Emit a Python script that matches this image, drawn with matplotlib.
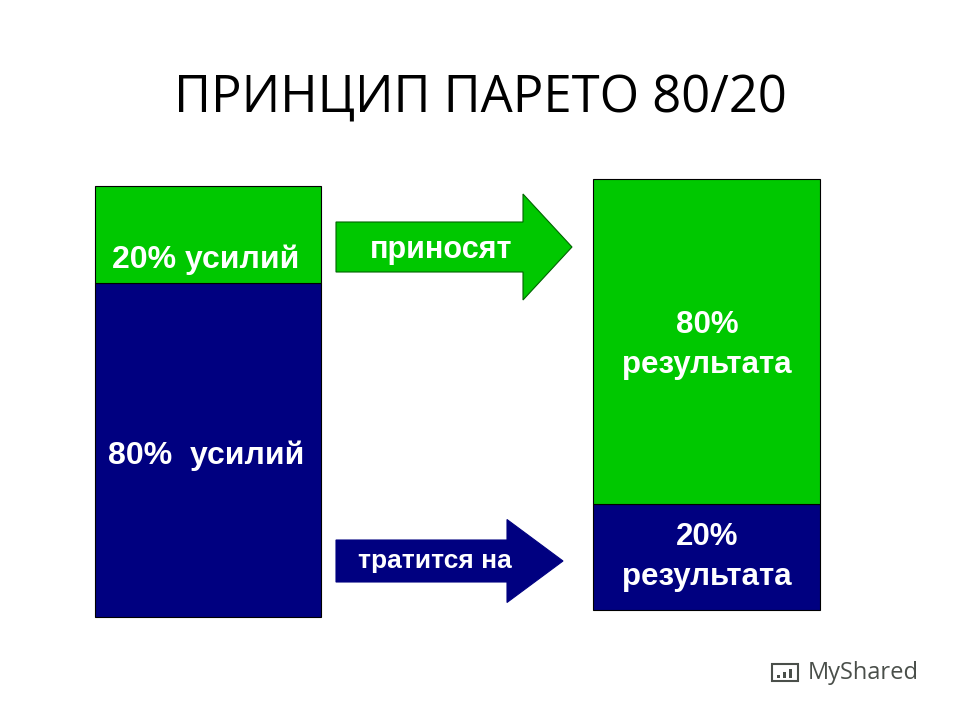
import matplotlib.pyplot as plt
from matplotlib.patches import FancyArrow, Rectangle

plt.rcParams['font.family'] = ['Liberation Sans', 'DejaVu Sans']

# data: share of each part, bottom (navy) first, then top (green)
effort_share = [77.5, 22.5]
result_share = [24.5, 75.5]
effort_labels = ['80%  усилий', '20% усилий']
result_labels = ['20%\nрезультата', '80%\nрезультата']
arrow_labels = ['приносят', 'тратится на']
title = 'ПРИНЦИП ПАРЕТО 80/20'

NAVY = '#000080'
GREEN = '#00C800'
colors = [NAVY, GREEN]

fig = plt.figure(figsize=(9.6, 7.2), dpi=100)
ax = fig.add_axes([0, 0, 1, 1])
ax.set_xlim(0, 960)
ax.set_ylim(720, 0)
ax.axis('off')

px_per_pct = 4.31  # bar height in pixels for 100%


def stacked(x0, width, y_bottom, shares, labels, label_y, fs, ha_x):
    bottom = y_bottom
    for share, col in zip(shares, colors):
        h = share * px_per_pct
        ax.add_patch(Rectangle((x0, bottom - h), width, h, facecolor=col,
                               edgecolor='black', linewidth=0.8))
        bottom -= h
    for lab, ly in zip(labels, label_y):
        ax.text(ha_x, ly, lab, color='white', fontsize=fs, fontweight='bold',
                ha='center', va='center', linespacing=1.45)


stacked(95, 226, 617, effort_share, effort_labels, [456, 260], 23, 206)
stacked(593, 227, 610, result_share, result_labels, [557, 345], 22.5, 707)

# arrows
ax.add_patch(FancyArrow(336, 247, 236, 0, width=50, head_width=106,
                        head_length=49, length_includes_head=True,
                        facecolor=GREEN, edgecolor='#006400', linewidth=0.8))
ax.add_patch(FancyArrow(336, 561, 227, 0, width=42, head_width=83,
                        head_length=56, length_includes_head=True,
                        facecolor=NAVY, edgecolor=NAVY, linewidth=0.8))
ax.text(441, 250, arrow_labels[0], color='white', fontsize=22,
        fontweight='bold', ha='center', va='center')
ax.text(435, 561, arrow_labels[1], color='white', fontsize=19,
        fontweight='bold', ha='center', va='center')

ax.text(480, 99, title, fontsize=36.5, ha='center', va='center',
        family=['Open Sans', 'DejaVu Sans'], color='black')

# watermark
ax.text(808, 673, 'MyShared', fontsize=17, color='#4a4f4a', ha='left',
        va='center', family=['Open Sans', 'DejaVu Sans'])
ax.add_patch(Rectangle((772, 664), 26, 17, facecolor='none',
                       edgecolor='#4a4f4a', linewidth=1.5))
for i, hgt in enumerate([3, 6, 9]):
    ax.add_patch(Rectangle((777 + i * 6, 678 - hgt), 3, hgt,
                           facecolor='#4a4f4a', edgecolor='none'))

fig.savefig('out.png', dpi=100)
